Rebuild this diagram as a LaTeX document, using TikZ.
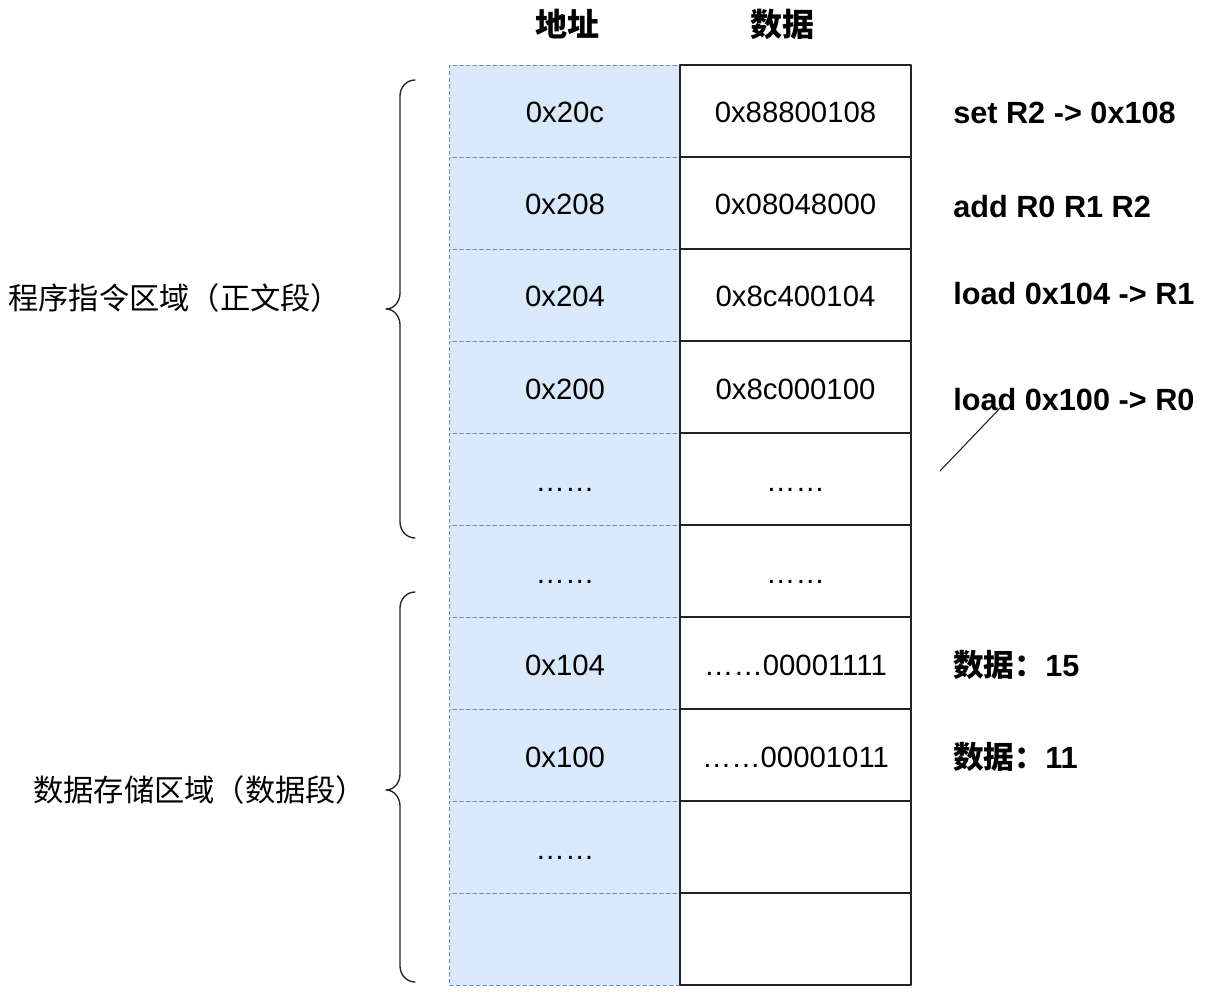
\documentclass[tikz,border=0pt]{standalone}
\usepackage{fontspec}
\setmainfont{Liberation Sans}
\newfontfamily\cjk{Noto Sans CJK SC}
\usetikzlibrary{calc}

\definecolor{addrfill}{HTML}{DAE8FC}
\definecolor{addrline}{HTML}{6C8EBF}
\definecolor{cellline}{HTML}{222222}

\begin{document}
\begin{tikzpicture}[x=0.75pt,y=-0.75pt,line cap=round,line join=round,
    addr/.style={draw=addrline,fill=addrfill,dashed,dash pattern=on 3pt off 2pt,
      line width=.6pt,minimum width=173.25pt,minimum height=69pt,
      inner sep=0pt,text height=18pt,text depth=0pt,
      font=\fontsize{22}{26}\selectfont},
    cell/.style={draw=cellline,fill=white,line width=.9pt,minimum width=173.25pt,
      minimum height=69pt,inner sep=0pt,text height=18pt,text depth=0pt,
      font=\fontsize{22}{26}\selectfont},
    head/.style={font=\cjk\bfseries\fontsize{24}{28}\selectfont},
    side/.style={anchor=west,inner sep=0pt,font=\cjk\fontsize{22.7}{27}\selectfont},
    note/.style={anchor=west,inner sep=0pt,font=\bfseries\fontsize{23}{27}\selectfont},
    brace/.style={draw=cellline,line width=1pt}]
  \useasboundingbox (0,0) rectangle (1206,998);

  % Column heads.
  \node[head] (hAddr) at (567,24) {地址};
  \node[head] (hData) at (782,24) {数据};

  % Address column (dashed, light blue).
  \node[addr] (a1)  at (565,111) {0x20c};
  \node[addr] (a2)  at (565,203) {0x208};
  \node[addr] (a3)  at (565,295) {0x204};
  \node[addr] (a4)  at (565,387) {0x200};
  \node[addr] (a5)  at (565,479) {……};
  \node[addr] (a6)  at (565,571) {……};
  \node[addr] (a7)  at (565,663) {0x104};
  \node[addr] (a8)  at (565,755) {0x100};
  \node[addr] (a9)  at (565,847) {……};
  \node[addr] (a10) at (565,939) {};

  % Data column.
  \node[cell] (d1)  at (795.5,111) {0x88800108};
  \node[cell] (d2)  at (795.5,203) {0x08048000};
  \node[cell] (d3)  at (795.5,295) {0x8c400104};
  \node[cell] (d4)  at (795.5,387) {0x8c000100};
  \node[cell] (d5)  at (795.5,479) {……};
  \node[cell] (d6)  at (795.5,571) {……};
  \node[cell] (d7)  at (795.5,663) {……00001111};
  \node[cell] (d8)  at (795.5,755) {……00001011};
  \node[cell] (d9)  at (795.5,847) {};
  \node[cell] (d10) at (795.5,939) {};

  % Meaning of each word.
  \node[note] (n1) at (953,113) {set R2 -> 0x108};
  \node[note] (n2) at (953,207) {add R0 R1 R2};
  \node[note] (n3) at (953,294) {load 0x104 -> R1};
  \node[note] (n4) at (953,400) {load 0x100 -> R0};
  \node[note] (n7) at (953,665) {{\cjk 数据：}15};
  \node[note] (n8) at (953,757) {{\cjk 数据：}11};

  % Stray stroke under the last load.
  \coordinate (s0) at (940,471);
  \coordinate (s1) at (1003,405);
  \draw[line width=.8pt,cellline] (s0) -- (s1);

  % Braces for the two segments.
  \draw[brace] (415,80) to[out=180,in=90] (400,96) -- (400,293)
    to[out=-90,in=0] (386,309) to[out=0,in=90] (400,325) -- (400,522)
    to[out=-90,in=180] (415,538);
  \draw[brace] (415,592) to[out=180,in=90] (400,608) -- (400,774)
    to[out=-90,in=0] (386,790) to[out=0,in=90] (400,806) -- (400,966)
    to[out=-90,in=180] (415,982);
  \node[side] (text) at (8,298) {程序指令区域（正文段）};
  \node[side] (data) at (33,790) {数据存储区域（数据段）};
\end{tikzpicture}
\end{document}
